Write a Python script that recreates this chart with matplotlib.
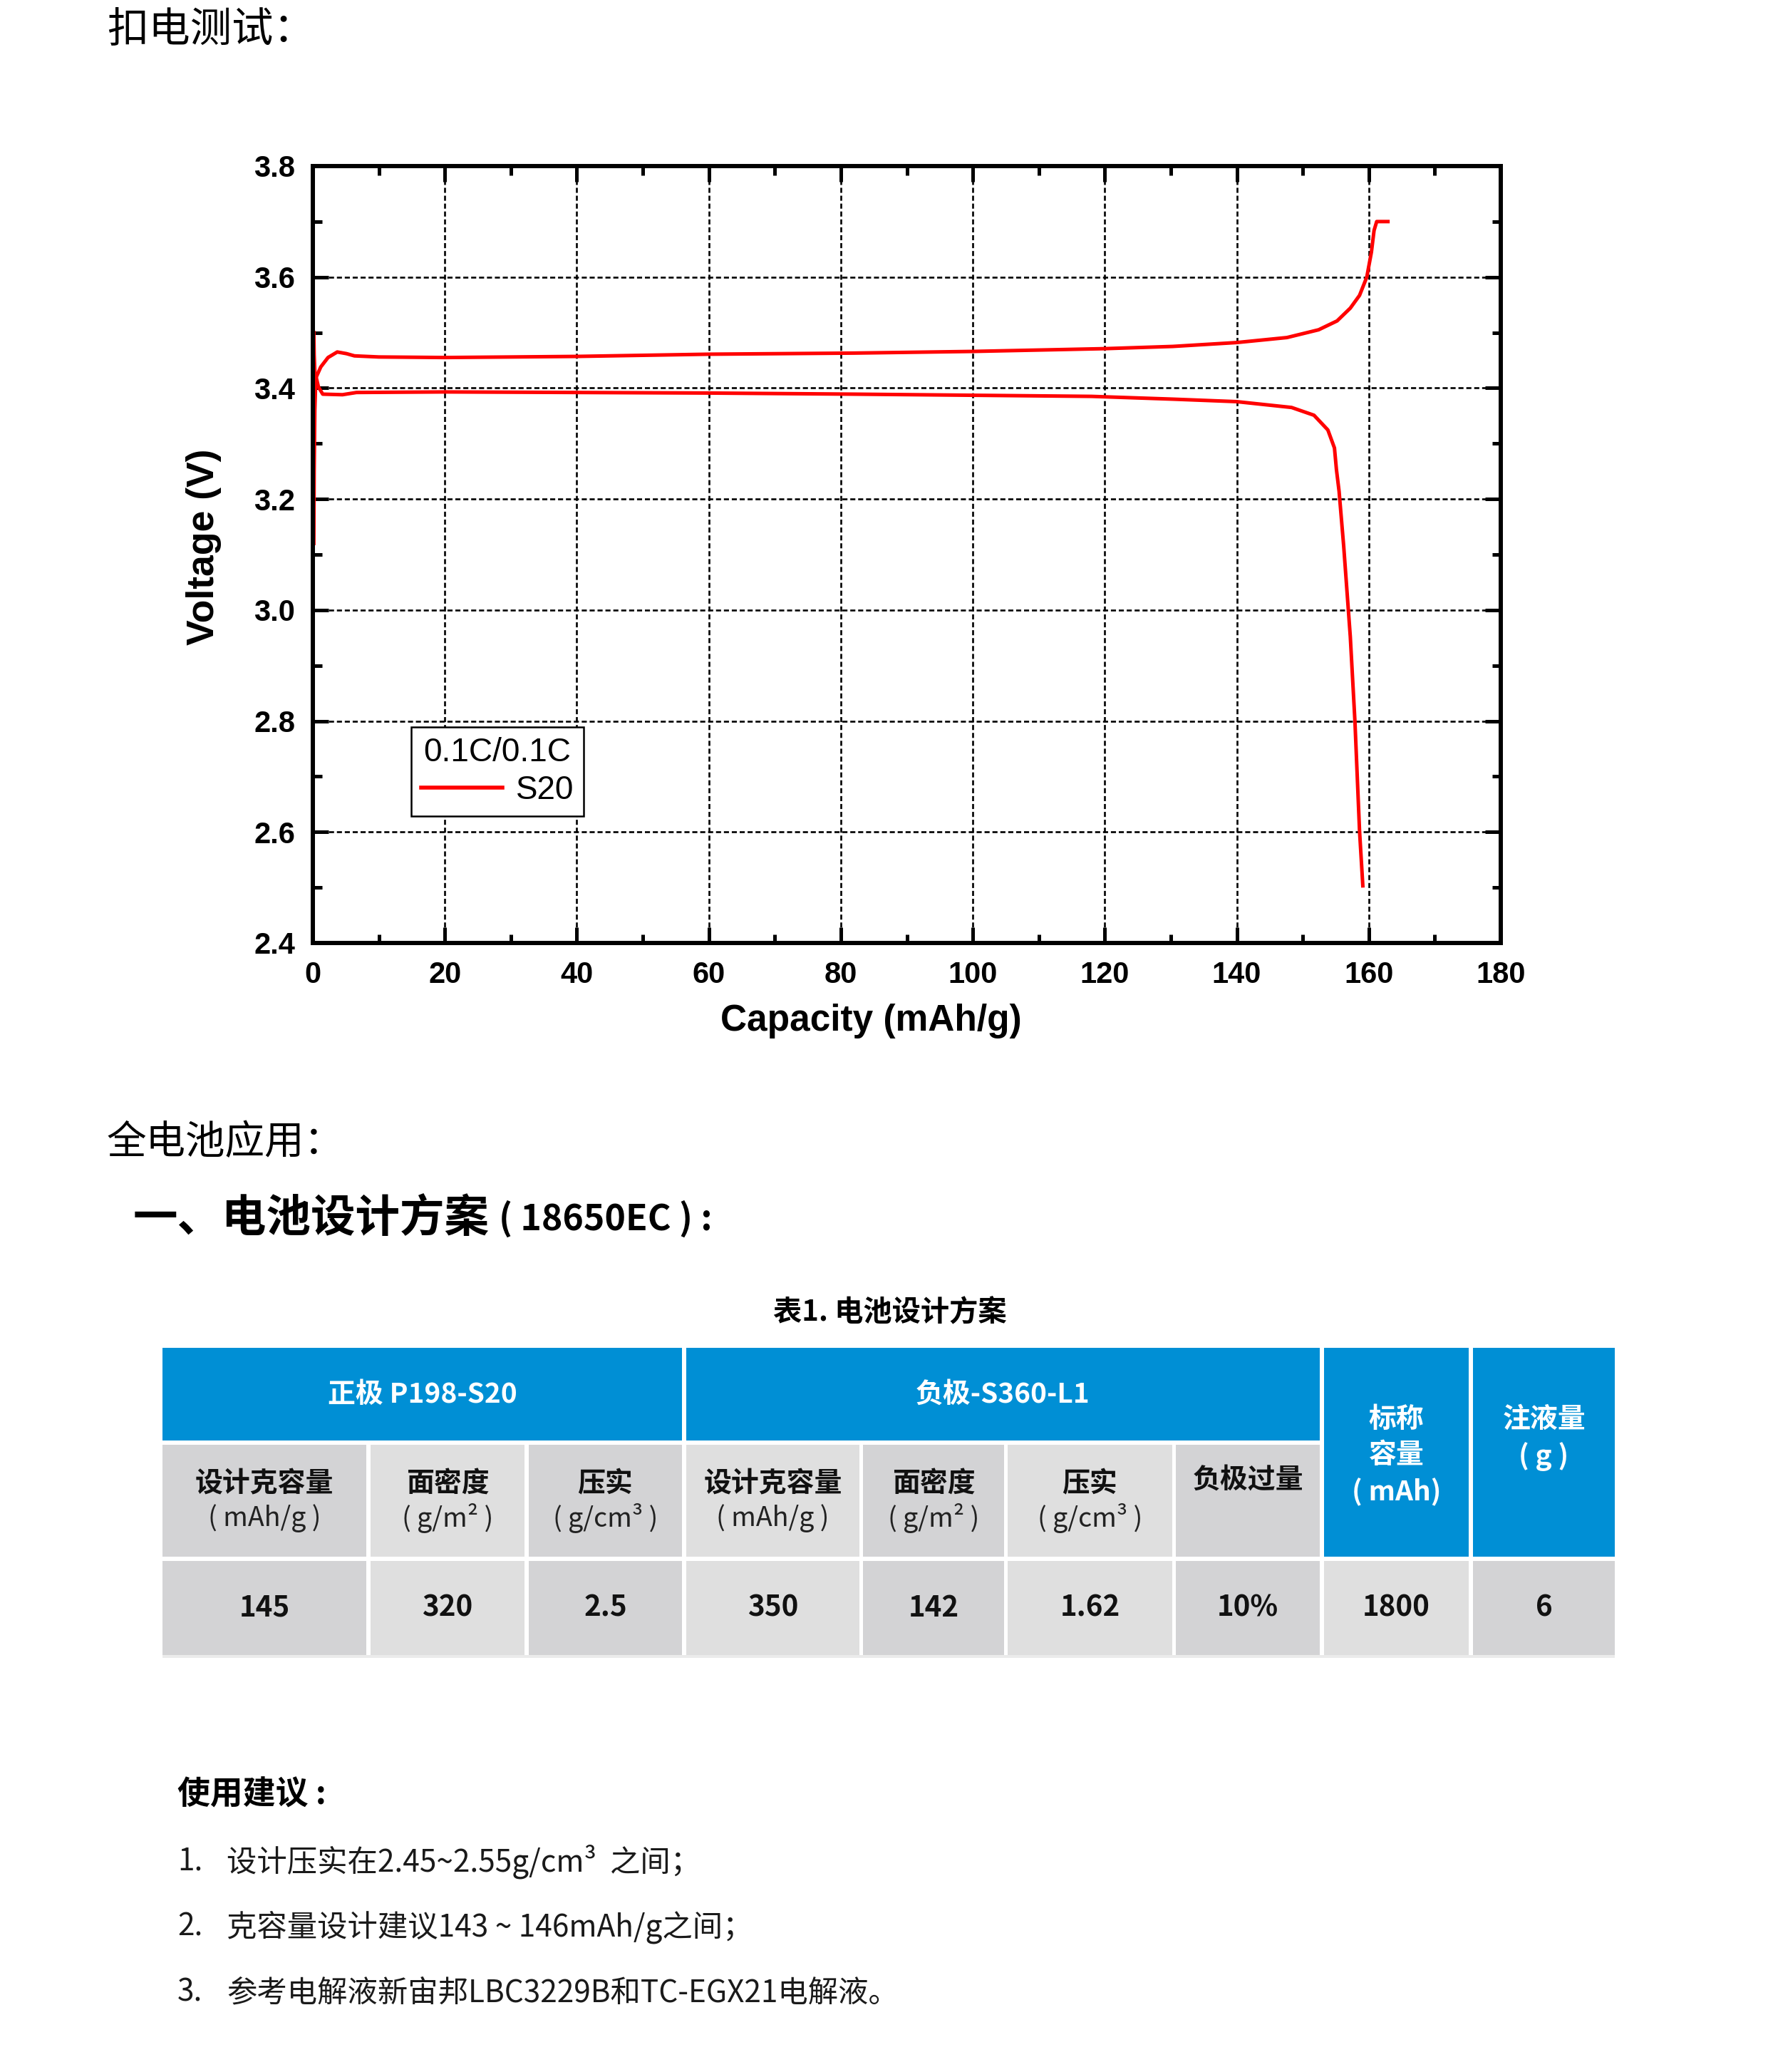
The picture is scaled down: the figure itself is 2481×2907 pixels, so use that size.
import matplotlib
matplotlib.use('Agg')
import matplotlib.pyplot as plt
from matplotlib.patches import Rectangle
from matplotlib.ticker import MultipleLocator

W, H = 2481, 2907
CJK = ['Noto Sans CJK SC', 'DejaVu Sans']
LAT = ['Liberation Sans', 'DejaVu Sans']

# charge / discharge curves
charge_cap = [0.15, 0.2, 0.3, 0.45, 1.2, 2.3, 3.7, 5.1, 6.3, 10, 20, 40, 60, 82, 100,
              120, 130.3, 140, 147.6, 152.4, 155.2, 157.2, 158.6, 159.7, 160.4, 160.8,
              161.2, 162.9]
charge_v = [3.12, 3.25, 3.36, 3.418, 3.438, 3.455, 3.465, 3.462, 3.458, 3.456, 3.455,
            3.457, 3.461, 3.463, 3.466, 3.471, 3.475, 3.482, 3.491, 3.505, 3.521, 3.544,
            3.567, 3.600, 3.645, 3.684, 3.700, 3.700]
discharge_cap = [0.15, 0.2, 0.3, 0.85, 1.5, 4.5, 6.6, 20, 40, 60, 82, 100, 118, 130.3,
                 140, 148.3, 151.7, 153.8, 154.8, 155.1, 155.5, 156.2, 157.2, 157.9,
                 158.6, 159.1]
discharge_v = [3.50, 3.46, 3.43, 3.402, 3.389, 3.388, 3.392, 3.393, 3.392, 3.391, 3.389,
               3.387, 3.385, 3.380, 3.3755, 3.365, 3.351, 3.3245, 3.292, 3.253, 3.214,
               3.115, 2.952, 2.80, 2.602, 2.503]

# table content
group_labels = ['正极 P198-S20', '负极-S360-L1']
sub_titles = ['设计克容量', '面密度', '压实', '设计克容量', '面密度', '压实', '负极过量']
sub_units = ['( mAh/g )', '( g/m² )', '( g/cm³ )', '( mAh/g )', '( g/m² )', '( g/cm³ )', '']
side_headers = [['标称', '容量', '( mAh)'], ['注液量', '( g )']]
values = ['145', '320', '2.5', '350', '142', '1.62', '10%', '1800', '6']

tips = ['设计压实在2.45~2.55g/cm³  之间；',
        '克容量设计建议143 ~ 146mAh/g之间；',
        '参考电解液新宙邦LBC3229B和TC-EGX21电解液。']

fig = plt.figure(figsize=(W / 100, H / 100), dpi=100)
fig.patch.set_facecolor('white')

# page layer in pixel coordinates
bg = fig.add_axes([0, 0, 1, 1])
bg.set_xlim(0, W)
bg.set_ylim(H, 0)
bg.axis('off')

bg.text(150, 43, '扣电测试：', fontsize=42, family=CJK, va='center', ha='left')
bg.text(150, 1603, '全电池应用：', fontsize=40, family=CJK, va='center', ha='left')
bg.text(187, 1709, '一、电池设计方案', fontsize=45, family=CJK, weight='bold',
        va='center', ha='left')
bg.text(700, 1711, '( 18650EC ) :', fontsize=36, family=CJK, weight='bold',
        va='center', ha='left')
bg.text(1249, 1841, '表1. 电池设计方案', fontsize=29, family=CJK, weight='bold',
        va='center', ha='center')

# table
blue = '#008FD5'
dark = '#D3D3D5'
light = '#DFDFDF'
col_l = [228, 520, 742, 963, 1211, 1414, 1650, 1858, 2067]
col_r = [514, 736, 957, 1206, 1409, 1645, 1852, 2061, 2266]
r1 = (1891, 2021)
r2 = (2027, 2184)
r3 = (2190, 2322)

groups = [(0, 2), (3, 6)]
for (a, b), lab in zip(groups, group_labels):
    bg.add_patch(Rectangle((col_l[a], r1[0]), col_r[b] - col_l[a], r1[1] - r1[0],
                           facecolor=blue, edgecolor='none'))
    bg.text((col_l[a] + col_r[b]) / 2, (r1[0] + r1[1]) / 2, lab, fontsize=28,
            family=CJK, weight='bold', color='white', ha='center', va='center')

for i, (t, u) in enumerate(zip(sub_titles, sub_units)):
    c = dark if i % 2 == 0 else light
    bg.add_patch(Rectangle((col_l[i], r2[0]), col_r[i] - col_l[i], r2[1] - r2[0],
                           facecolor=c, edgecolor='none'))
    cx = (col_l[i] + col_r[i]) / 2
    if u:
        bg.text(cx, 2082, t, fontsize=28, family=CJK, weight='bold', color='#111111',
                ha='center', va='center')
        bg.text(cx, 2130, u, fontsize=27, family=CJK, color='#222222',
                ha='center', va='center')
    else:
        bg.text(cx, 2077, t, fontsize=28, family=CJK, weight='bold', color='#111111',
                ha='center', va='center')

side_y = [[1991, 2041, 2093], [1991, 2044]]
for k, lines in enumerate(side_headers):
    i = 7 + k
    bg.add_patch(Rectangle((col_l[i], r1[0]), col_r[i] - col_l[i], r2[1] - r1[0],
                           facecolor=blue, edgecolor='none'))
    cx = (col_l[i] + col_r[i]) / 2
    for s, y in zip(lines, side_y[k]):
        bg.text(cx, y, s, fontsize=28, family=CJK, weight='bold', color='white',
                ha='center', va='center')

for i, v in enumerate(values):
    c = dark if i % 2 == 0 else light
    bg.add_patch(Rectangle((col_l[i], r3[0]), col_r[i] - col_l[i], r3[1] - r3[0],
                           facecolor=c, edgecolor='none'))
    bg.text((col_l[i] + col_r[i]) / 2, (r3[0] + r3[1]) / 2, v, fontsize=29, family=CJK,
            weight='bold', color='#111111', ha='center', va='center')
bg.add_patch(Rectangle((col_l[0], r3[1]), col_r[-1] - col_l[0], 4,
                       facecolor='#EBEBEB', edgecolor='none'))

# usage tips
bg.text(249, 2518, '使用建议 :', fontsize=33, family=CJK, weight='bold',
        va='center', ha='left')
for n, (s, y) in enumerate(zip(tips, [2612, 2704, 2796])):
    bg.text(249, y, f'{n + 1}.', fontsize=30.5, family=CJK, color='#1a1a1a',
            va='center', ha='left')
    bg.text(318, y, s, fontsize=30.5, family=CJK, color='#1a1a1a', va='center', ha='left')

# chart
ax = fig.add_axes([439 / W, 1 - 1323 / H, 1667 / W, 1090 / H])
ax.plot(charge_cap, charge_v, color='#FF0000', lw=3.6, label='S20')
ax.plot(discharge_cap, discharge_v, color='#FF0000', lw=3.6)

ax.set_xlim(0, 180)
ax.set_ylim(2.4, 3.8)
ax.xaxis.set_major_locator(MultipleLocator(20))
ax.xaxis.set_minor_locator(MultipleLocator(10))
ax.yaxis.set_major_locator(MultipleLocator(0.2))
ax.yaxis.set_minor_locator(MultipleLocator(0.1))
ax.yaxis.set_major_formatter(matplotlib.ticker.FormatStrFormatter('%.1f'))
ax.tick_params(which='both', direction='in', top=True, right=True, width=3.6,
               color='black')
ax.tick_params(which='major', length=16, pad=18)
ax.tick_params(which='minor', length=9)
for lab in ax.get_xticklabels() + ax.get_yticklabels():
    lab.set_family(LAT)
    lab.set_weight('bold')
    lab.set_fontsize(30)
for sp in ax.spines.values():
    sp.set_linewidth(4.3)
ax.grid(True, which='major', color='black', linestyle=(0, (2.7, 1.5)), linewidth=1.9)

ax.set_xlabel('Capacity (mAh/g)', fontsize=37, family=LAT, weight='bold')
ax.set_ylabel('Voltage (V)', fontsize=38.5, family=LAT, weight='bold')
ax.xaxis.set_label_coords(0.47, -0.078)
ax.yaxis.set_label_coords(-0.077, 0.51)

leg = ax.legend(title='0.1C/0.1C', loc='upper left', bbox_to_anchor=(0.0828, 0.278),
                borderaxespad=0, fancybox=False, edgecolor='black', framealpha=1,
                prop={'family': LAT, 'size': 33},
                title_fontproperties={'family': LAT, 'size': 33},
                handlelength=2.5, handletextpad=0.4, borderpad=0.3, labelspacing=0.2)
leg.get_frame().set_linewidth(1.8)
for line in leg.get_lines():
    line.set_linewidth(4)

plt.savefig('out.png', dpi=100)
